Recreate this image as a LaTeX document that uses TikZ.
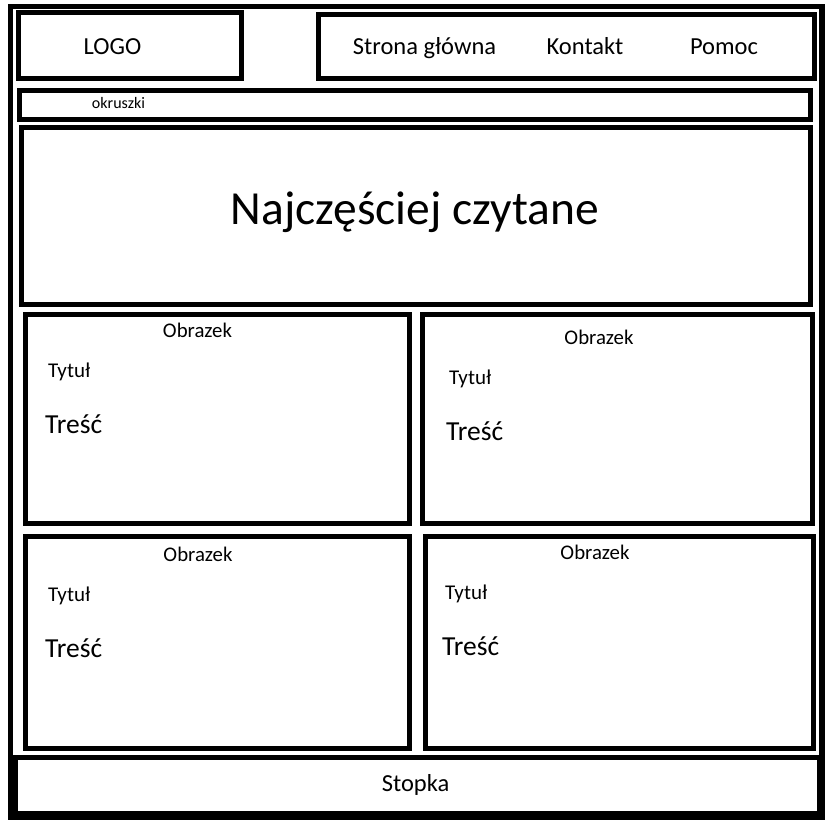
\documentclass[tikz,border=0pt]{standalone}
\usepackage{fontspec}
\setmainfont{Carlito}
\begin{document}
\begin{tikzpicture}[x=1pt,y=-1pt,
  box/.style={draw=black,line width=5pt,fill=white},
  frame/.style={draw=black,line width=5.5pt},
  lbl/.style={inner sep=0pt,font=\fontsize{24.5}{24.5}\selectfont},
  small/.style={inner sep=0pt,font=\fontsize{16}{16}\selectfont},
  headline/.style={inner sep=0pt,font=\fontsize{47.5}{47.5}\selectfont},
  imglbl/.style={inner sep=0pt,anchor=base,font=\fontsize{20.8}{20.8}\selectfont},
  titlelbl/.style={inner sep=0pt,anchor=base west,font=\fontsize{21}{21}\selectfont},
  bodylbl/.style={inner sep=0pt,anchor=base west,font=\fontsize{27.5}{27.5}\selectfont}]
\useasboundingbox[fill=white] (0,0) rectangle (834,827);

% page frame
\draw[frame] (10.5,6.5) rectangle (822,817);

% header: logo and menu
\draw[box] (18.5,12.5) rectangle (241.5,78.5);
\node[lbl,anchor=base] (logo) at (112.5,54) {LOGO};
\draw[box] (318.5,14.5) rectangle (814.5,78.5);
\node[lbl,anchor=base] (home) at (424.5,54.5) {Strona główna};
\node[lbl,anchor=base] (contact) at (585,54.5) {Kontakt};
\node[lbl,anchor=base] (help) at (724,54.5) {Pomoc};

% breadcrumbs
\draw[box] (19.5,90.5) rectangle (810.5,119.5);
\node[small,anchor=base] (crumbs) at (118.5,108) {okruszki};

% most read banner
\draw[box] (21.5,127.5) rectangle (810.5,304.5);
\node[headline,anchor=base] (mostread) at (415,224) {Najczęściej czytane};

% article cards
\draw[box] (25.5,314) rectangle (409.5,523.5);
\node[imglbl] (img1) at (197.5,337) {Obrazek};
\node[titlelbl] (title1) at (48,377) {Tytuł};
\node[bodylbl] (body1) at (45,433) {Treść};

\draw[box] (422.5,314.5) rectangle (812.5,523.5);
\node[imglbl] (img2) at (599,344) {Obrazek};
\node[titlelbl] (title2) at (449,384) {Tytuł};
\node[bodylbl] (body2) at (446,440) {Treść};

\draw[box] (25.5,536.5) rectangle (409.5,748);
\node[imglbl] (img3) at (198,561) {Obrazek};
\node[titlelbl] (title3) at (48,601) {Tytuł};
\node[bodylbl] (body3) at (45,657) {Treść};

\draw[box] (425.5,536.5) rectangle (813.5,748);
\node[imglbl] (img4) at (595,559) {Obrazek};
\node[titlelbl] (title4) at (445,599) {Tytuł};
\node[bodylbl] (body4) at (442,655) {Treść};

% footer
\draw[box] (15.5,757) rectangle (819.5,813.5);
\node[lbl,anchor=base] (footer) at (415.5,791.5) {Stopka};
\end{tikzpicture}
\end{document}
